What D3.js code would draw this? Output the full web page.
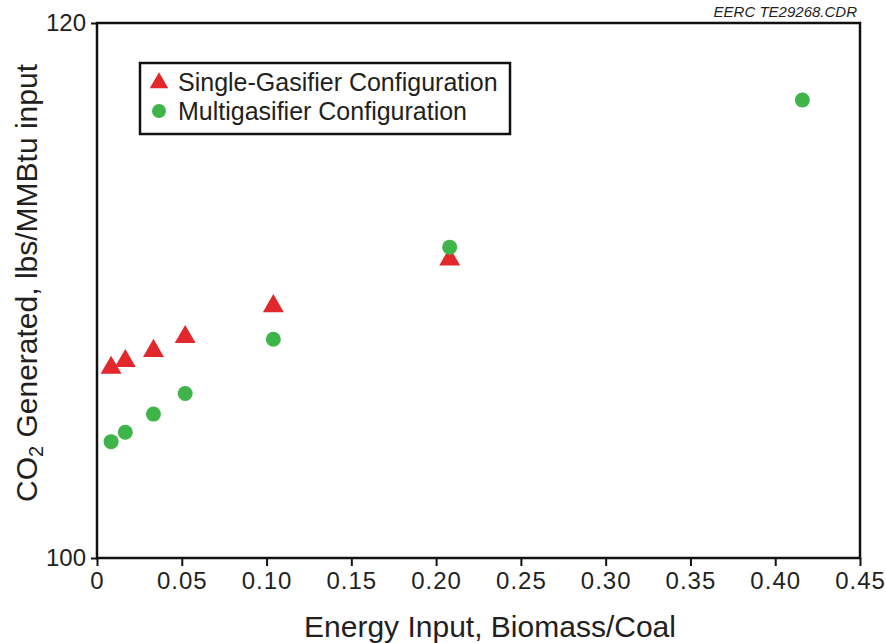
<!DOCTYPE html>
<html>
<head>
<meta charset="utf-8">
<script src="https://cdn.jsdelivr.net/npm/d3@7"></script>
<style>
  body { margin: 0; background: #fff; }
  text { font-family: "Liberation Sans", Arial, sans-serif; fill: #231f20; }
</style>
</head>
<body>
<script>
// data
const ratioSingle = [0.0083, 0.0167, 0.0333, 0.052, 0.104, 0.208];
const co2Single = [107.15, 107.4, 107.78, 108.3, 109.45, 111.2];
const ratioMulti = [0.0083, 0.0167, 0.0333, 0.052, 0.104, 0.208, 0.416];
const co2Multi = [104.35, 104.7, 105.38, 106.15, 108.18, 111.62, 117.12];
const xTicks = [0, 0.05, 0.10, 0.15, 0.20, 0.25, 0.30, 0.35, 0.40, 0.45];
const yTicks = [100, 120];
const seriesNames = ["Single-Gasifier Configuration", "Multigasifier Configuration"];

const w = 886, h = 643;
const m = {top: 23, right: 26, bottom: 85, left: 97};
const red = "#e2282c", green = "#3fb449";

const svg = d3.select("body").append("svg")
  .attr("width", w).attr("height", h);

const x = d3.scaleLinear().domain([0, 0.45]).range([m.left, w - m.right]);
const y = d3.scaleLinear().domain([100, 120]).range([h - m.bottom, m.top]);

// frame
svg.append("rect")
  .attr("x", x(0)).attr("y", y(120))
  .attr("width", x(0.45) - x(0)).attr("height", y(100) - y(120))
  .attr("fill", "none").attr("stroke", "#111").attr("stroke-width", 2.5);

const xAxis = d3.axisBottom(x).tickValues(xTicks).tickSize(8).tickPadding(6)
  .tickFormat(d => d === 0 ? "0" : d3.format(".2f")(d));
svg.append("g")
  .attr("transform", "translate(0," + y(100) + ")")
  .call(xAxis)
  .call(g => g.select(".domain").remove())
  .call(g => g.selectAll("line").attr("stroke", "#111").attr("stroke-width", 2))
  .call(g => g.selectAll("text").style("font-size", "24px").attr("fill", "#231f20")
    .style("font-family", "Liberation Sans, Arial, sans-serif").attr("letter-spacing", "1px"));

const yAxis = d3.axisLeft(y).tickValues(yTicks).tickSize(6).tickPadding(5);
svg.append("g")
  .attr("transform", "translate(" + x(0) + ",0)")
  .call(yAxis)
  .call(g => g.select(".domain").remove())
  .call(g => g.selectAll("line").attr("stroke", "#111").attr("stroke-width", 2))
  .call(g => g.selectAll("text").style("font-size", "24px").attr("fill", "#231f20")
    .style("font-family", "Liberation Sans, Arial, sans-serif"));

// axis titles
svg.append("text")
  .attr("x", 490).attr("y", 637)
  .attr("text-anchor", "middle")
  .style("font-size", "30px")
  .text("Energy Input, Biomass/Coal");

const yt = svg.append("text")
  .attr("transform", "translate(37,283) rotate(-90)")
  .attr("text-anchor", "middle")
  .style("font-size", "30px");
yt.append("tspan").text("CO");
yt.append("tspan").attr("dy", 6).style("font-size", "20px").text("2");
yt.append("tspan").attr("dy", -6).text(" Generated, lbs/MMBtu input");

svg.append("text")
  .attr("x", 857).attr("y", 17)
  .attr("text-anchor", "end")
  .style("font-size", "15px").style("font-style", "italic")
  .text("EERC TE29268.CDR");

// points
const tri = d3.symbol().type(d3.symbolTriangle).size(190);
svg.append("g").selectAll("path")
  .data(ratioSingle.map((r, i) => [r, co2Single[i]]))
  .enter().append("path")
  .attr("d", tri)
  .attr("transform", d => "translate(" + x(d[0]) + "," + (y(d[1]) + 1) + ")")
  .attr("fill", red);

svg.append("g").selectAll("circle")
  .data(ratioMulti.map((r, i) => [r, co2Multi[i]]))
  .enter().append("circle")
  .attr("cx", d => x(d[0])).attr("cy", d => y(d[1]))
  .attr("r", 7.5)
  .attr("fill", green);

// legend
const lg = svg.append("g").attr("transform", "translate(140,63)");
lg.append("rect").attr("width", 370).attr("height", 71)
  .attr("fill", "#fff").attr("stroke", "#111").attr("stroke-width", 2.5);
lg.append("path").attr("d", d3.symbol().type(d3.symbolTriangle).size(150))
  .attr("transform", "translate(19,20)").attr("fill", red);
lg.append("circle").attr("cx", 19).attr("cy", 48).attr("r", 7).attr("fill", green);
lg.selectAll("text.lbl").data(seriesNames).enter().append("text")
  .attr("class", "lbl")
  .attr("x", 38).attr("y", (d, i) => 28 + i * 29)
  .style("font-size", "25px")
  .text(d => d);
</script>
</body>
</html>
